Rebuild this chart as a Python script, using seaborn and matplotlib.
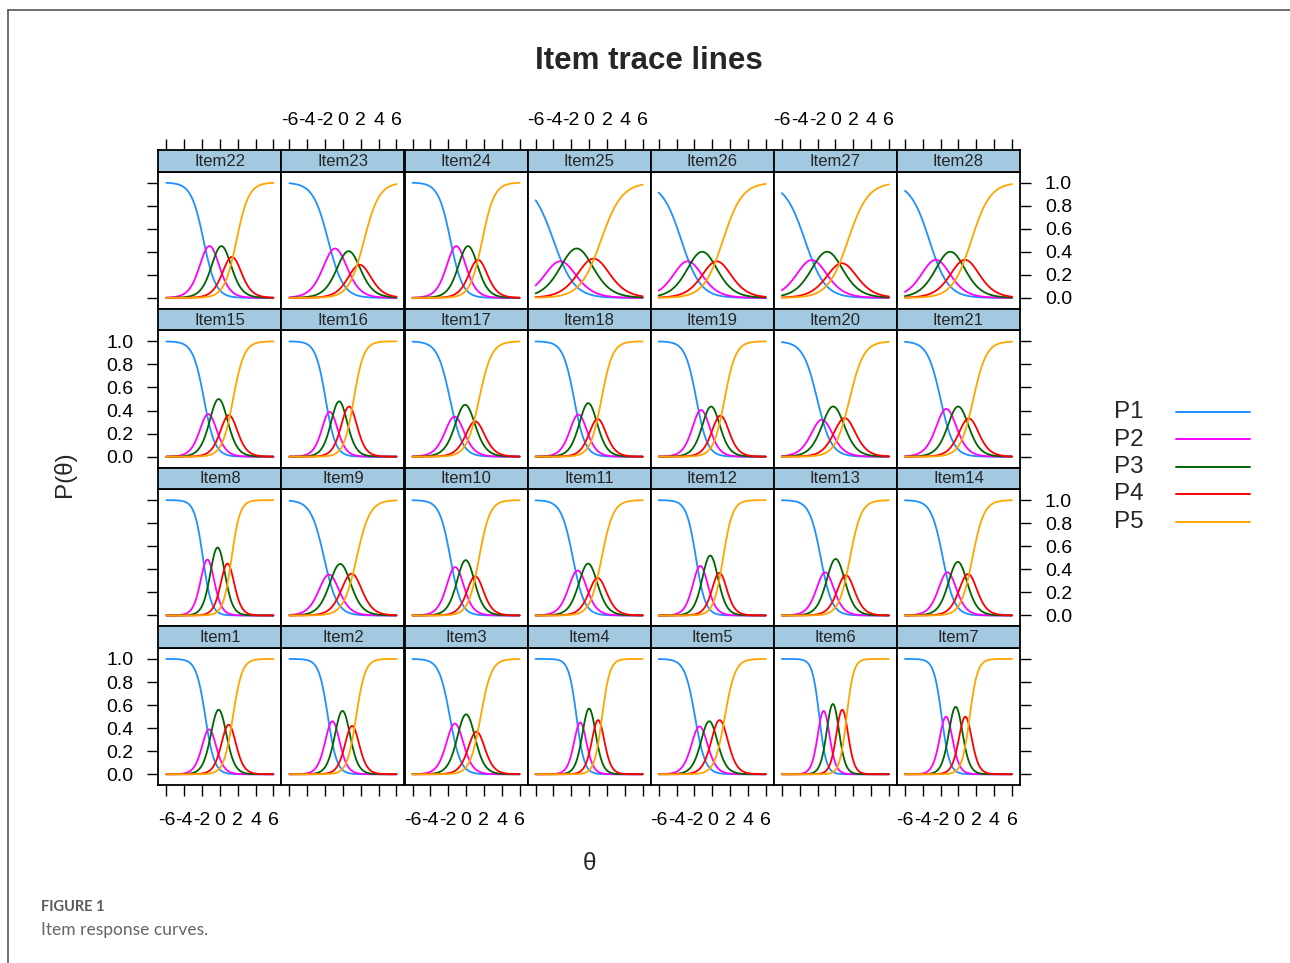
import numpy as np
import pandas as pd
import matplotlib
matplotlib.use("Agg")
import matplotlib.pyplot as plt
from matplotlib.lines import Line2D
import seaborn as sns

items = [f"Item{i}" for i in range(1, 29)]
categories = ["P1", "P2", "P3", "P4", "P5"]
colors = ["#1e90ff", "#ff00ff", "#006400", "#ff0000", "#ffa500"]

# theta where the P2 / P3 / P4 curves peak
peak_theta = [
    [-1.20, -0.15, 1.00], [-1.18, -0.06, 1.03], [-1.27, 0.04, 1.16], [-1.00, 0.00, 1.00],
    [-1.44, -0.31, 0.81], [-1.35, -0.22, 0.75], [-1.41, -0.28, 0.76], [-1.39, -0.26, 0.86],
    [-1.60, -0.25, 0.95], [-1.20, -0.07, 1.05], [-1.27, -0.15, 0.98], [-1.33, -0.24, 0.81],
    [-1.12, 0.00, 1.20], [-1.22, -0.10, 1.10], [-1.31, -0.11, 1.01], [-1.48, -0.43, 0.69],
    [-1.27, -0.15, 1.05], [-1.19, -0.14, 0.98], [-1.25, -0.13, 0.92], [-1.61, -0.11, 1.01],
    [-1.33, -0.10, 1.20], [-1.12, 0.07, 1.42], [-0.85, 0.58, 1.89], [-1.09, 0.22, 1.35],
    [-3.25, -1.37, 0.49], [-2.75, -1.14, 0.50], [-2.62, -0.97, 0.75], [-2.53, -0.92, 0.73],
]
# height of those peaks
peak_height = [
    [0.39, 0.56, 0.43], [0.46, 0.55, 0.42], [0.44, 0.52, 0.37], [0.45, 0.57, 0.47],
    [0.415, 0.46, 0.47], [0.55, 0.61, 0.56], [0.50, 0.585, 0.50], [0.485, 0.59, 0.45],
    [0.354, 0.447, 0.363], [0.42, 0.48, 0.34], [0.39, 0.45, 0.325], [0.43, 0.52, 0.37],
    [0.374, 0.49, 0.35], [0.374, 0.465, 0.36], [0.37, 0.50, 0.36], [0.39, 0.48, 0.435],
    [0.347, 0.45, 0.306], [0.365, 0.464, 0.327], [0.405, 0.435, 0.356], [0.32, 0.435, 0.335],
    [0.414, 0.435, 0.332], [0.449, 0.449, 0.355], [0.428, 0.405, 0.287], [0.449, 0.449, 0.33],
    [0.317, 0.428, 0.34], [0.317, 0.40, 0.317], [0.328, 0.40, 0.30], [0.33, 0.40, 0.33],
]

x_ticks = [-6, -4, -2, 0, 2, 4, 6]
y_ticks = [0.0, 0.2, 0.4, 0.6, 0.8, 1.0]
y_ticklabels = ["0.0", "0.2", "0.4", "0.6", "0.8", "1.0"]

theta = np.linspace(-6, 6, 121)


def grm_params(p, h):
    # graded response model slope / thresholds matching the read peaks
    p = np.asarray(p)
    g = 4 * np.arctanh(np.asarray(h))
    a = np.mean([(g[0] + g[1]) / (2 * (p[1] - p[0])),
                 (g[1] + g[2]) / (2 * (p[2] - p[1]))])
    d = g / a
    rel = np.array([d[0] / 2, d[0] + d[1] / 2, d[0] + d[1] + d[2] / 2])
    b1 = np.mean(p - rel)
    return a, b1 + np.concatenate([[0], np.cumsum(d)])


frames = []
for name, p, h in zip(items, peak_theta, peak_height):
    a, b = grm_params(p, h)
    star = 1 / (1 + np.exp(-a * (theta[:, None] - b[None, :])))
    cum = np.column_stack([np.ones_like(theta), star, np.zeros_like(theta)])
    probs = cum[:, :-1] - cum[:, 1:]
    for k, cat in enumerate(categories):
        frames.append(pd.DataFrame({"item": name, "theta": theta, "cat": cat, "P": probs[:, k]}))
df = pd.concat(frames, ignore_index=True)

sns.set_style("white")
plt.rcParams["font.family"] = ["Liberation Sans", "DejaVu Sans"]
plt.rcParams["axes.unicode_minus"] = False

W, H = 1290, 963
fig = plt.figure(figsize=(W / 100, H / 100), dpi=100)


def rect(x0, y0, w, h):
    return [x0 / W, 1 - (y0 + h) / H, w / W, h / H]


left, col_w = 158.3, 123.1
top, pitch, strip_h = 150.0, 158.8, 21.6
panel_h = pitch - strip_h
xlim = (-6.9, 6.9)
ylim = (-0.095, 1.095)
tick_kw = dict(direction="out", length=8, width=1.0, labelsize=14, colors="black")
palette = dict(zip(categories, colors))

for r in range(4):
    for c in range(7):
        name = items[(3 - r) * 7 + c]
        y_strip = top + r * pitch
        ax = fig.add_axes(rect(left + c * col_w, y_strip + strip_h, col_w, panel_h))
        sub = df[df["item"] == name]
        sns.lineplot(data=sub, x="theta", y="P", hue="cat", palette=palette,
                     ax=ax, legend=False, linewidth=1.3, errorbar=None)
        ax.set_xlim(xlim)
        ax.set_ylim(ylim)
        ax.set_xlabel("")
        ax.set_ylabel("")
        for s in ax.spines.values():
            s.set_color("black")
            s.set_linewidth(1.3)

        ax.set_xticks(x_ticks)
        ax.set_xticklabels([str(t) for t in x_ticks])
        ax.tick_params(axis="x", **tick_kw, pad=11)
        if r == 3:
            ax.tick_params(axis="x", bottom=True, labelbottom=(c % 2 == 0))
        else:
            ax.tick_params(axis="x", bottom=False, labelbottom=False)

        ax.set_yticks(y_ticks)
        ax.set_yticklabels(y_ticklabels)
        ax.tick_params(axis="y", **tick_kw, pad=10)
        ax.tick_params(axis="y", left=(c == 0), labelleft=(c == 0 and r in (1, 3)),
                       right=(c == 6), labelright=(c == 6 and r in (0, 2)))

        sx = fig.add_axes(rect(left + c * col_w, y_strip, col_w, strip_h))
        sx.set_facecolor("#a3c9e1")
        sx.set_xlim(xlim)
        sx.set_ylim(0, 1)
        sx.set_yticks([])
        for s in sx.spines.values():
            s.set_color("black")
            s.set_linewidth(1.3)
        sx.text(0, 0.48, name, ha="center", va="center", fontsize=12)
        if r == 0:
            sx.xaxis.tick_top()
            sx.set_xticks(x_ticks)
            sx.set_xticklabels([str(t) if c % 2 == 1 else "" for t in x_ticks])
            sx.tick_params(axis="x", **tick_kw, pad=7)
        else:
            sx.set_xticks([])

# titles and axis labels
fig.text(649 / W, 1 - 61 / H, "Item trace lines", ha="center", va="center",
         fontsize=22.5, fontweight="bold")
fig.text(65 / W, 1 - 474 / H, "P(θ)", ha="center", va="center", rotation=90, fontsize=17.5)
fig.text(589 / W, 1 - 864 / H, "θ", ha="center", va="center", fontsize=17.5)

# legend
for k, (cat, col) in enumerate(zip(categories, colors)):
    yk = 412 + k * 27.5
    fig.text(1114 / W, 1 - yk / H, cat, ha="left", va="center", fontsize=17.5)
    fig.add_artist(Line2D([1176 / W, 1250 / W], [1 - yk / H, 1 - yk / H],
                          color=col, linewidth=1.4, transform=fig.transFigure))

# page frame and caption
fig.add_artist(Line2D([8 / W, 1], [1 - 10 / H, 1 - 10 / H], color="#555555",
                      linewidth=1.2, transform=fig.transFigure))
fig.add_artist(Line2D([8 / W, 8 / W], [0, 1 - 10 / H], color="#555555",
                      linewidth=1.2, transform=fig.transFigure))
fig.text(41 / W, 1 - 907 / H, "FIGURE 1", ha="left", va="center", fontsize=10.5,
         fontweight="bold", color="#5a5a5a", family=["Lato", "DejaVu Sans"])
fig.text(41 / W, 1 - 930 / H, "Item response curves.", ha="left", va="center",
         fontsize=12.5, color="#666666", family=["Lato", "DejaVu Sans"])

fig.savefig("out.png", dpi=100, facecolor="white")
